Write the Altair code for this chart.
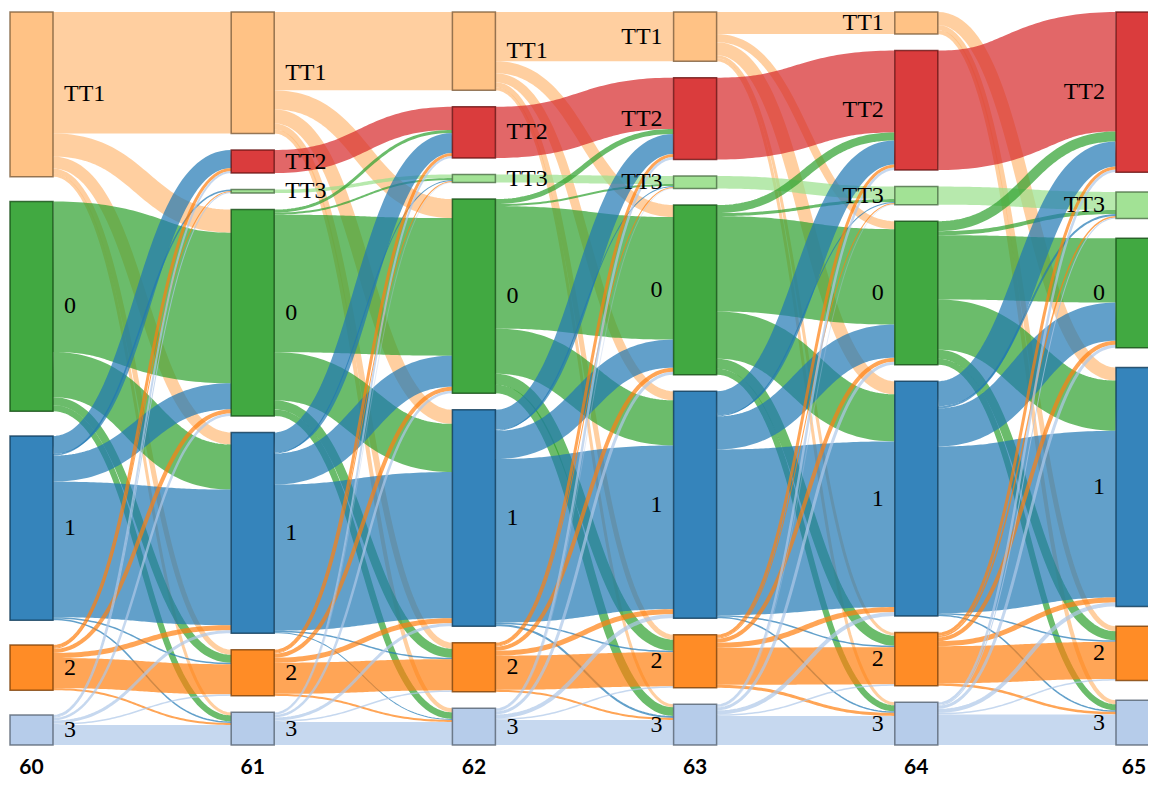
import altair as alt
import numpy as np
import pandas as pd

# ---------------- data ----------------
years = ["60", "61", "62", "63", "64", "65"]
states = ["TT1", "TT2", "TT3", "0", "1", "2", "3"]
state_colors = ["#ffbb78", "#d62728", "#98df8a", "#2ca02c", "#1f77b4", "#ff7f0e", "#aec7e8"]

# rows = state in the earlier year, columns = state in the next year
# order of both: TT1, TT2, TT3, 0, 1, 2, 3
flows_60_61 = [
    [121, 0, 0, 23, 12, 5, 3],
    [0, 0, 0, 0, 0, 0, 0],
    [0, 0, 0, 0, 0, 0, 0],
    [0, 0, 0, 150, 45, 8, 6],
    [0, 18, 1.5, 26, 135, 1.5, 1.5],
    [0, 3, 1, 4, 5, 30, 2],
    [0, 2, 1, 2.5, 3, 1.5, 20],
]
flows_61_62 = [
    [78, 0, 0, 19, 14, 6, 4],
    [0, 23, 0, 0, 0, 0, 0],
    [0, 0, 3.5, 0, 0, 0, 0],
    [0, 3, 2, 137, 48, 9, 6.5],
    [0, 20, 1, 31, 145.5, 1.5, 1],
    [0, 3, 1, 4, 5, 31, 2],
    [0, 2, 0.5, 2.5, 3, 1.5, 23],
]
flows_62_63 = [
    [49, 0, 0, 12, 9, 5, 3],
    [0, 51, 0, 0, 0, 0, 0],
    [0, 0, 8, 0, 0, 0, 0],
    [0, 5, 2, 122, 45, 11, 8.5],
    [0, 20, 1, 28, 163, 1.5, 2],
    [0, 3, 1, 4, 5, 34, 2],
    [0, 2.5, 0.5, 3, 4, 1.5, 25],
]
flows_63_64 = [
    [22, 0, 0, 8, 13, 3, 3],
    [0, 81.5, 0, 0, 0, 0, 0],
    [0, 0, 12.5, 0, 0, 0, 0],
    [0, 8, 3, 95, 47, 10, 6],
    [0, 24, 1, 33, 165, 1.5, 1.5],
    [0, 3, 1, 4, 5, 37, 3],
    [0, 2.5, 0.5, 3, 4, 1.5, 29],
]
flows_64_65 = [
    [0, 0, 0, 0, 13, 5, 4],
    [0, 119, 0, 0, 0, 0, 0],
    [0, 0, 18, 0, 0, 0, 0],
    [0, 10, 4, 64, 50, 9, 6],
    [0, 25, 2, 38, 166, 1.5, 1.5],
    [0, 3, 1.5, 4, 5, 37, 2.5],
    [0, 2.5, 1, 3, 4, 1.5, 30.5],
]
transitions = [flows_60_61, flows_61_62, flows_62_63, flows_63_64, flows_64_65]

# ---------------- sankey layout ----------------
WIDTH, HEIGHT = 1140, 771
COL_PX = 221.2                 # pixels between columns
NODE_W = 43 / COL_PX           # node width in column units
SPAN = 733.0                   # vertical extent of the node area
PAD = 16.5
TOP = -4.0
BOTTOM = TOP + HEIGHT          # y domain (layout units)
ppu = HEIGHT / (BOTTOM - TOP)  # pixels per layout unit
X_MIN = -2 / COL_PX
X_MAX = (WIDTH - 2) / COL_PX

n_cols, n_st = len(years), len(states)


def darker(hexcol, k=2):
    f = 0.7 ** k
    r, g, b = (int(hexcol[i:i + 2], 16) for i in (1, 3, 5))
    return "#%02x%02x%02x" % (int(r * f), int(g * f), int(b * f))


value = np.zeros((n_cols, n_st))
for k, F in enumerate(transitions):
    F = np.asarray(F, float)
    value[k] = np.maximum(value[k], F.sum(1))
    value[k + 1] = np.maximum(value[k + 1], F.sum(0))

ky = min((SPAN - (np.count_nonzero(value[k]) - 1) * PAD) / value[k].sum() for k in range(n_cols))

y0 = np.full((n_cols, n_st), np.nan)
for k in range(n_cols):
    present = [i for i in range(n_st) if value[k, i] > 0]
    gap = (SPAN - value[k].sum() * ky) / (len(present) - 1)
    y = 0.0
    for i in present:
        y0[k, i] = y
        y += value[k, i] * ky + gap

# links as cubic curves sampled through the scales
T = np.linspace(0, 1, 60)
rows = []
lid = 0
for k, F in enumerate(transitions):
    F = np.asarray(F, float)
    src_pos, tgt_pos = {}, {}
    for i in range(n_st):
        off = 0.0
        for j in range(n_st):
            if F[i, j] > 0:
                src_pos[(i, j)] = y0[k, i] + off + F[i, j] * ky / 2
                off += F[i, j] * ky
    for j in range(n_st):
        off = 0.0
        for i in range(n_st):
            if F[i, j] > 0:
                tgt_pos[(i, j)] = y0[k + 1, j] + off + F[i, j] * ky / 2
                off += F[i, j] * ky
    xa, xb = k + NODE_W, k + 1.0
    xm = (xa + xb) / 2
    for i in range(n_st):
        for j in range(n_st):
            if F[i, j] <= 0:
                continue
            ya, yb = src_pos[(i, j)], tgt_pos[(i, j)]
            bx = (1 - T) ** 3 * xa + 3 * (1 - T) ** 2 * T * xm + 3 * (1 - T) * T ** 2 * xm + T ** 3 * xb
            by = (1 - T) ** 3 * ya + 3 * (1 - T) ** 2 * T * ya + 3 * (1 - T) * T ** 2 * yb + T ** 3 * yb
            for t, xx, yy in zip(T, bx, by):
                rows.append(dict(link=lid, t=float(t), x=float(xx), y=float(yy),
                                 w=float(F[i, j] * ky * ppu), color=state_colors[i]))
            lid += 1
link_df = pd.DataFrame(rows)

node_rows = []
for k in range(n_cols):
    for i in range(n_st):
        if value[k, i] <= 0:
            continue
        top = y0[k, i]
        bot = top + value[k, i] * ky
        node_rows.append(dict(x=k, x2=k + NODE_W, y=top, y2=bot, mid=(top + bot) / 2,
                              color=state_colors[i], dark=darker(state_colors[i]),
                              label=states[i], side="right" if k < n_cols / 2 else "left"))
node_df = pd.DataFrame(node_rows)

# year labels centred under the columns, kept inside the drawing
half_label = 13 / COL_PX
year_x = [min(k + NODE_W / 2, X_MAX - half_label - 1 / COL_PX) for k in range(n_cols)]
year_df = pd.DataFrame(dict(year=years, x=year_x, y=[SPAN + 29] * n_cols))

xs = alt.Scale(domain=[X_MIN, X_MAX], nice=False, zero=False)
ys = alt.Scale(domain=[TOP, BOTTOM], reverse=True, nice=False, zero=False)

links = alt.Chart(link_df).mark_line(strokeOpacity=0.7, strokeCap="butt").encode(
    x=alt.X("x:Q", scale=xs, axis=None),
    y=alt.Y("y:Q", scale=ys, axis=None),
    detail="link:N",
    order="t:Q",
    stroke=alt.Stroke("color:N", scale=None),
    strokeWidth=alt.StrokeWidth("w:Q", scale=None),
)

nodes = alt.Chart(node_df).mark_rect(fillOpacity=0.9, strokeWidth=1.5, strokeOpacity=0.8).encode(
    x=alt.X("x:Q", scale=xs, axis=None), x2="x2:Q",
    y=alt.Y("y:Q", scale=ys, axis=None), y2="y2:Q",
    fill=alt.Fill("color:N", scale=None),
    stroke=alt.Stroke("dark:N", scale=None),
)

lab_right = alt.Chart(node_df).transform_filter(alt.datum.side == "right").mark_text(
    font="Liberation Serif", fontSize=24, align="left", baseline="middle", dx=11, color="black"
).encode(
    x=alt.X("x2:Q", scale=xs, axis=None),
    y=alt.Y("mid:Q", scale=ys, axis=None),
    text="label:N",
)
lab_left = alt.Chart(node_df).transform_filter(alt.datum.side == "left").mark_text(
    font="Liberation Serif", fontSize=24, align="right", baseline="middle", dx=-11, color="black"
).encode(
    x=alt.X("x:Q", scale=xs, axis=None),
    y=alt.Y("mid:Q", scale=ys, axis=None),
    text="label:N",
)

year_labels = alt.Chart(year_df).mark_text(
    font="Lato", fontWeight="bold", fontSize=21, align="center", baseline="alphabetic", color="black"
).encode(
    x=alt.X("x:Q", scale=xs, axis=None),
    y=alt.Y("y:Q", scale=ys, axis=None),
    text="year:N",
)

chart = alt.layer(links, nodes, lab_right, lab_left, year_labels).properties(
    width=WIDTH, height=HEIGHT, padding=0, autosize=alt.AutoSizeParams(type="none")
).configure_view(stroke=None)

chart.save("out.html", embed_options={"renderer": "svg", "actions": False})
